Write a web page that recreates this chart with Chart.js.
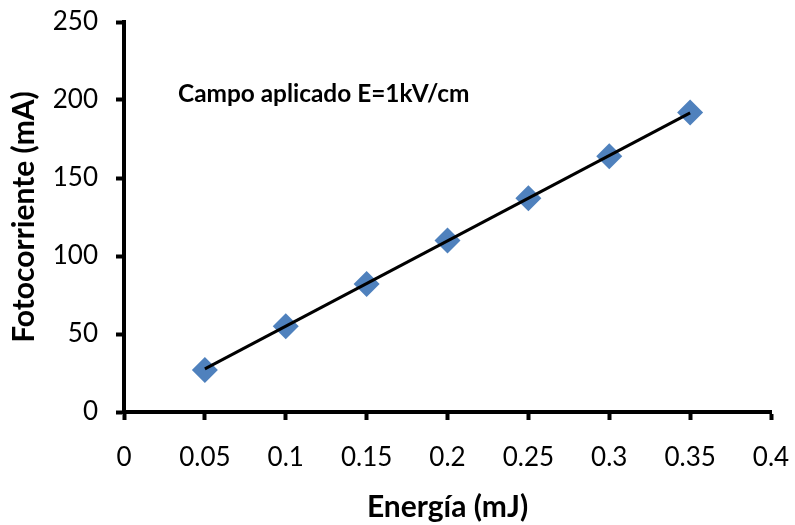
<!DOCTYPE html>
<html>
<head>
<meta charset="utf-8">
<script src="https://cdn.jsdelivr.net/npm/chart.js@4.4.1/dist/chart.umd.min.js"></script>
<style>
  html, body { margin: 0; padding: 0; background: #fff; }
  #wrap { width: 795px; height: 525px; }
</style>
</head>
<body>
<div id="wrap"><canvas id="c" width="795" height="525"></canvas></div>
<script>
const energia = [0.05, 0.10, 0.15, 0.20, 0.25, 0.30, 0.35];
const fotocorriente = [27, 55, 82, 110, 137, 164, 192];
const trendX = [0.05, 0.35];
const trendY = [27.6, 191.7];
const xTickLabels = ['0', '0.05', '0.1', '0.15', '0.2', '0.25', '0.3', '0.35', '0.4'];
const yTickLabels = ['0', '50', '100', '150', '200', '250'];
const xTitle = 'Energía (mJ)';
const yTitle = 'Fotocorriente (mA)';
const annotationText = 'Campo aplicado E=1kV/cm';

const FONT = 'Lato, Calibri, Carlito, sans-serif';

const annotationPlugin = {
  id: 'annot',
  afterDraw(chart) {
    const ctx = chart.ctx;
    ctx.save();
    ctx.font = 'bold 24.4px ' + FONT;
    ctx.fillStyle = '#000';
    ctx.textBaseline = 'alphabetic';
    ctx.textAlign = 'left';
    ctx.fillText(annotationText, 178, 102);
    ctx.restore();
  }
};

new Chart(document.getElementById('c'), {
  type: 'scatter',
  data: {
    datasets: [
      {
        type: 'line',
        label: 'tendencia',
        data: trendX.map((x, i) => ({ x, y: trendY[i] })),
        borderColor: '#000',
        borderWidth: 3,
        pointRadius: 0,
        fill: false,
        order: 0
      },
      {
        label: 'datos',
        data: energia.map((x, i) => ({ x, y: fotocorriente[i] })),
        pointStyle: 'rectRot',
        pointRadius: 13,
        pointHoverRadius: 13,
        backgroundColor: '#4F81BD',
        borderColor: '#4F81BD',
        borderWidth: 0,
        order: 1
      }
    ]
  },
  options: {
    responsive: false,
    animation: false,
    devicePixelRatio: 1,
    layout: { padding: { top: 22, right: 24, left: 0, bottom: 0 } },
    plugins: {
      legend: { display: false },
      tooltip: { enabled: false }
    },
    scales: {
      x: {
        type: 'linear',
        min: 0, max: 0.4,
        ticks: {
          stepSize: 0.05,
          color: '#000',
          font: { family: FONT, size: 26 },
          padding: 22,
          callback: (v, i) => xTickLabels[i]
        },
        grid: {
          drawOnChartArea: false,
          drawTicks: true,
          tickLength: 8,
          tickWidth: 4,
          tickColor: '#000'
        },
        border: { display: true, color: '#000', width: 4 },
        title: {
          display: true,
          text: xTitle,
          color: '#000',
          font: { family: FONT, size: 30, weight: 'bold' },
          padding: { top: 4, bottom: 0 }
        },
        afterFit(scale) {
          scale.height = 525 - 412;
          scale.paddingLeft = 0;
          scale.paddingRight = 0;
        }
      },
      y: {
        type: 'linear',
        min: 0, max: 250,
        ticks: {
          stepSize: 50,
          color: '#000',
          font: { family: FONT, size: 26 },
          padding: 18,
          callback: (v, i) => yTickLabels[i]
        },
        grid: {
          drawOnChartArea: false,
          drawTicks: true,
          tickLength: 8,
          tickWidth: 4,
          tickColor: '#000'
        },
        border: { display: true, color: '#000', width: 4 },
        title: {
          display: true,
          text: yTitle,
          color: '#000',
          font: { family: FONT, size: 30, weight: 'bold' },
          padding: { top: 6, bottom: 0 }
        },
        afterFit(scale) {
          scale.width = 124;
          scale.paddingTop = 0;
          scale.paddingBottom = 0;
        }
      }
    }
  },
  plugins: [annotationPlugin]
});
</script>
</body>
</html>
